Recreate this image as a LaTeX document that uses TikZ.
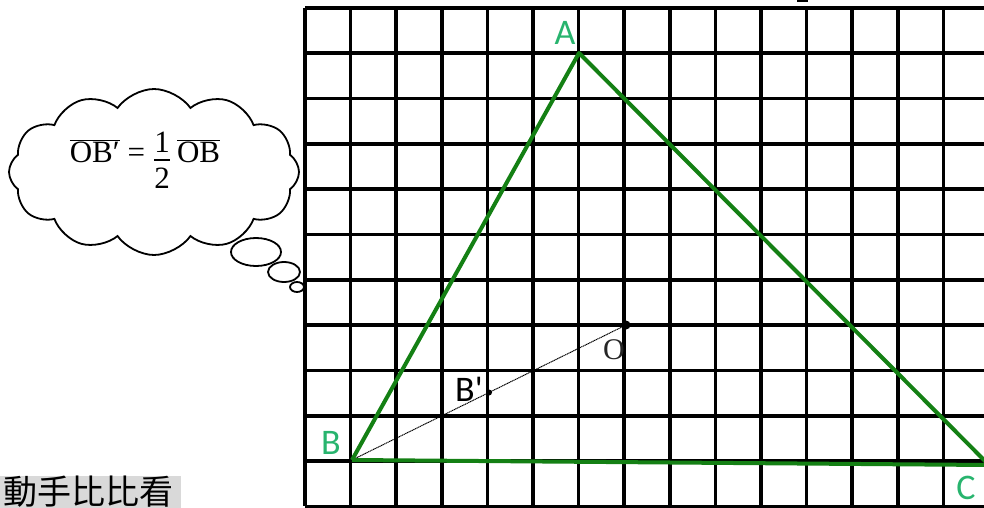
\documentclass[tikz,border=0pt]{standalone}
\usepackage{fontspec}
\usepackage{amsmath}
\usetikzlibrary{shapes.symbols}
\newfontfamily\cjkfont{Noto Sans CJK TC}
\newfontfamily\labfont{Carlito}
\newfontfamily\serlab{Liberation Serif}
\definecolor{trigreen}{RGB}{20,128,20}
\definecolor{labgreen}{RGB}{40,180,110}
\definecolor{bglabel}{RGB}{217,217,217}
\newcommand{\eqt}[1]{\text{\serlab\fontsize{31}{36}\selectfont #1}}
\tikzset{
  gridline/.style={line width=3.6pt, black},
  side/.style={line width=4pt, trigreen},
  vlabel/.style={font=\labfont\fontsize{36}{36}\selectfont, text=labgreen, inner sep=0pt},
  dotpt/.style={circle, fill=black, inner sep=0pt, minimum size=#1},
}
\begin{document}
\begin{tikzpicture}[x=1pt,y=-1pt]
\useasboundingbox (0,0) rectangle (984,508);
% grid
\foreach \i in {0,...,14} {
  \draw[gridline] ({305+45.6*\i},8) -- ({305+45.6*\i},506);
}
\foreach \j in {0,...,11} {
  \draw[gridline] (305,{8+45.3*\j}) -- (984,{8+45.3*\j});
}
\fill (797,0) rectangle (808,2);
% points
\coordinate (A) at (579,53);
\coordinate (B) at (352,460);
\coordinate (C) at (989,465);
\node[dotpt=9pt] (O) at (626,325) {};
\node[dotpt=6pt] (Bp) at (489,392.5) {};
% segment OB
\draw[line width=1pt, dash pattern=on 1.2pt off 0.6pt] (B) -- (O.center);
% triangle
\draw[side, line join=round] (B) -- (A) -- (C);
\draw[side] (B) -- (C);
% labels
\node[vlabel, anchor=south] (lA) at (565,45) {A};
\node[vlabel, anchor=south] (lB) at (331,455) {B};
\node[vlabel, anchor=south] (lC) at (966,500) {C};
\node[vlabel, text=black, anchor=south] (lBp) at (469,402) {B'};
\node[font=\serlab\fontsize{30}{30}\selectfont, text=black!85, inner sep=0pt, anchor=south] (lO) at (614,360) {O};
% cloud
\node[cloud, draw, line width=1.8pt, fill=white, cloud puffs=12, cloud puff arc=110,
  minimum width=290pt, minimum height=166pt, aspect=1.9] (cl) at (154,172) {};
\node[inner sep=0pt] (eq) at (145,160) {$\overline{\eqt{OB′}}\hspace{8pt}\eqt{=}\hspace{8pt}\genfrac{}{}{2.2pt}{0}{\eqt{1}}{\eqt{2}}\hspace{6pt}\overline{\eqt{OB}}$};
\draw[line width=1.8pt, fill=white] (256,252) ellipse (25 and 14);
\draw[line width=1.8pt, fill=white] (284,272) ellipse (16 and 10);
\draw[line width=1.8pt, fill=white] (297,287) ellipse (7 and 5);
% bottom text
\node[fill=bglabel, inner sep=0pt, minimum width=181pt, minimum height=32pt, anchor=north west] (tt) at (0,476) {};
\node[font=\cjkfont\fontsize{34}{34}\selectfont, text=black, inner sep=0pt, anchor=center] (ttx) at (88,492) {動手比比看};
\end{tikzpicture}
\end{document}
